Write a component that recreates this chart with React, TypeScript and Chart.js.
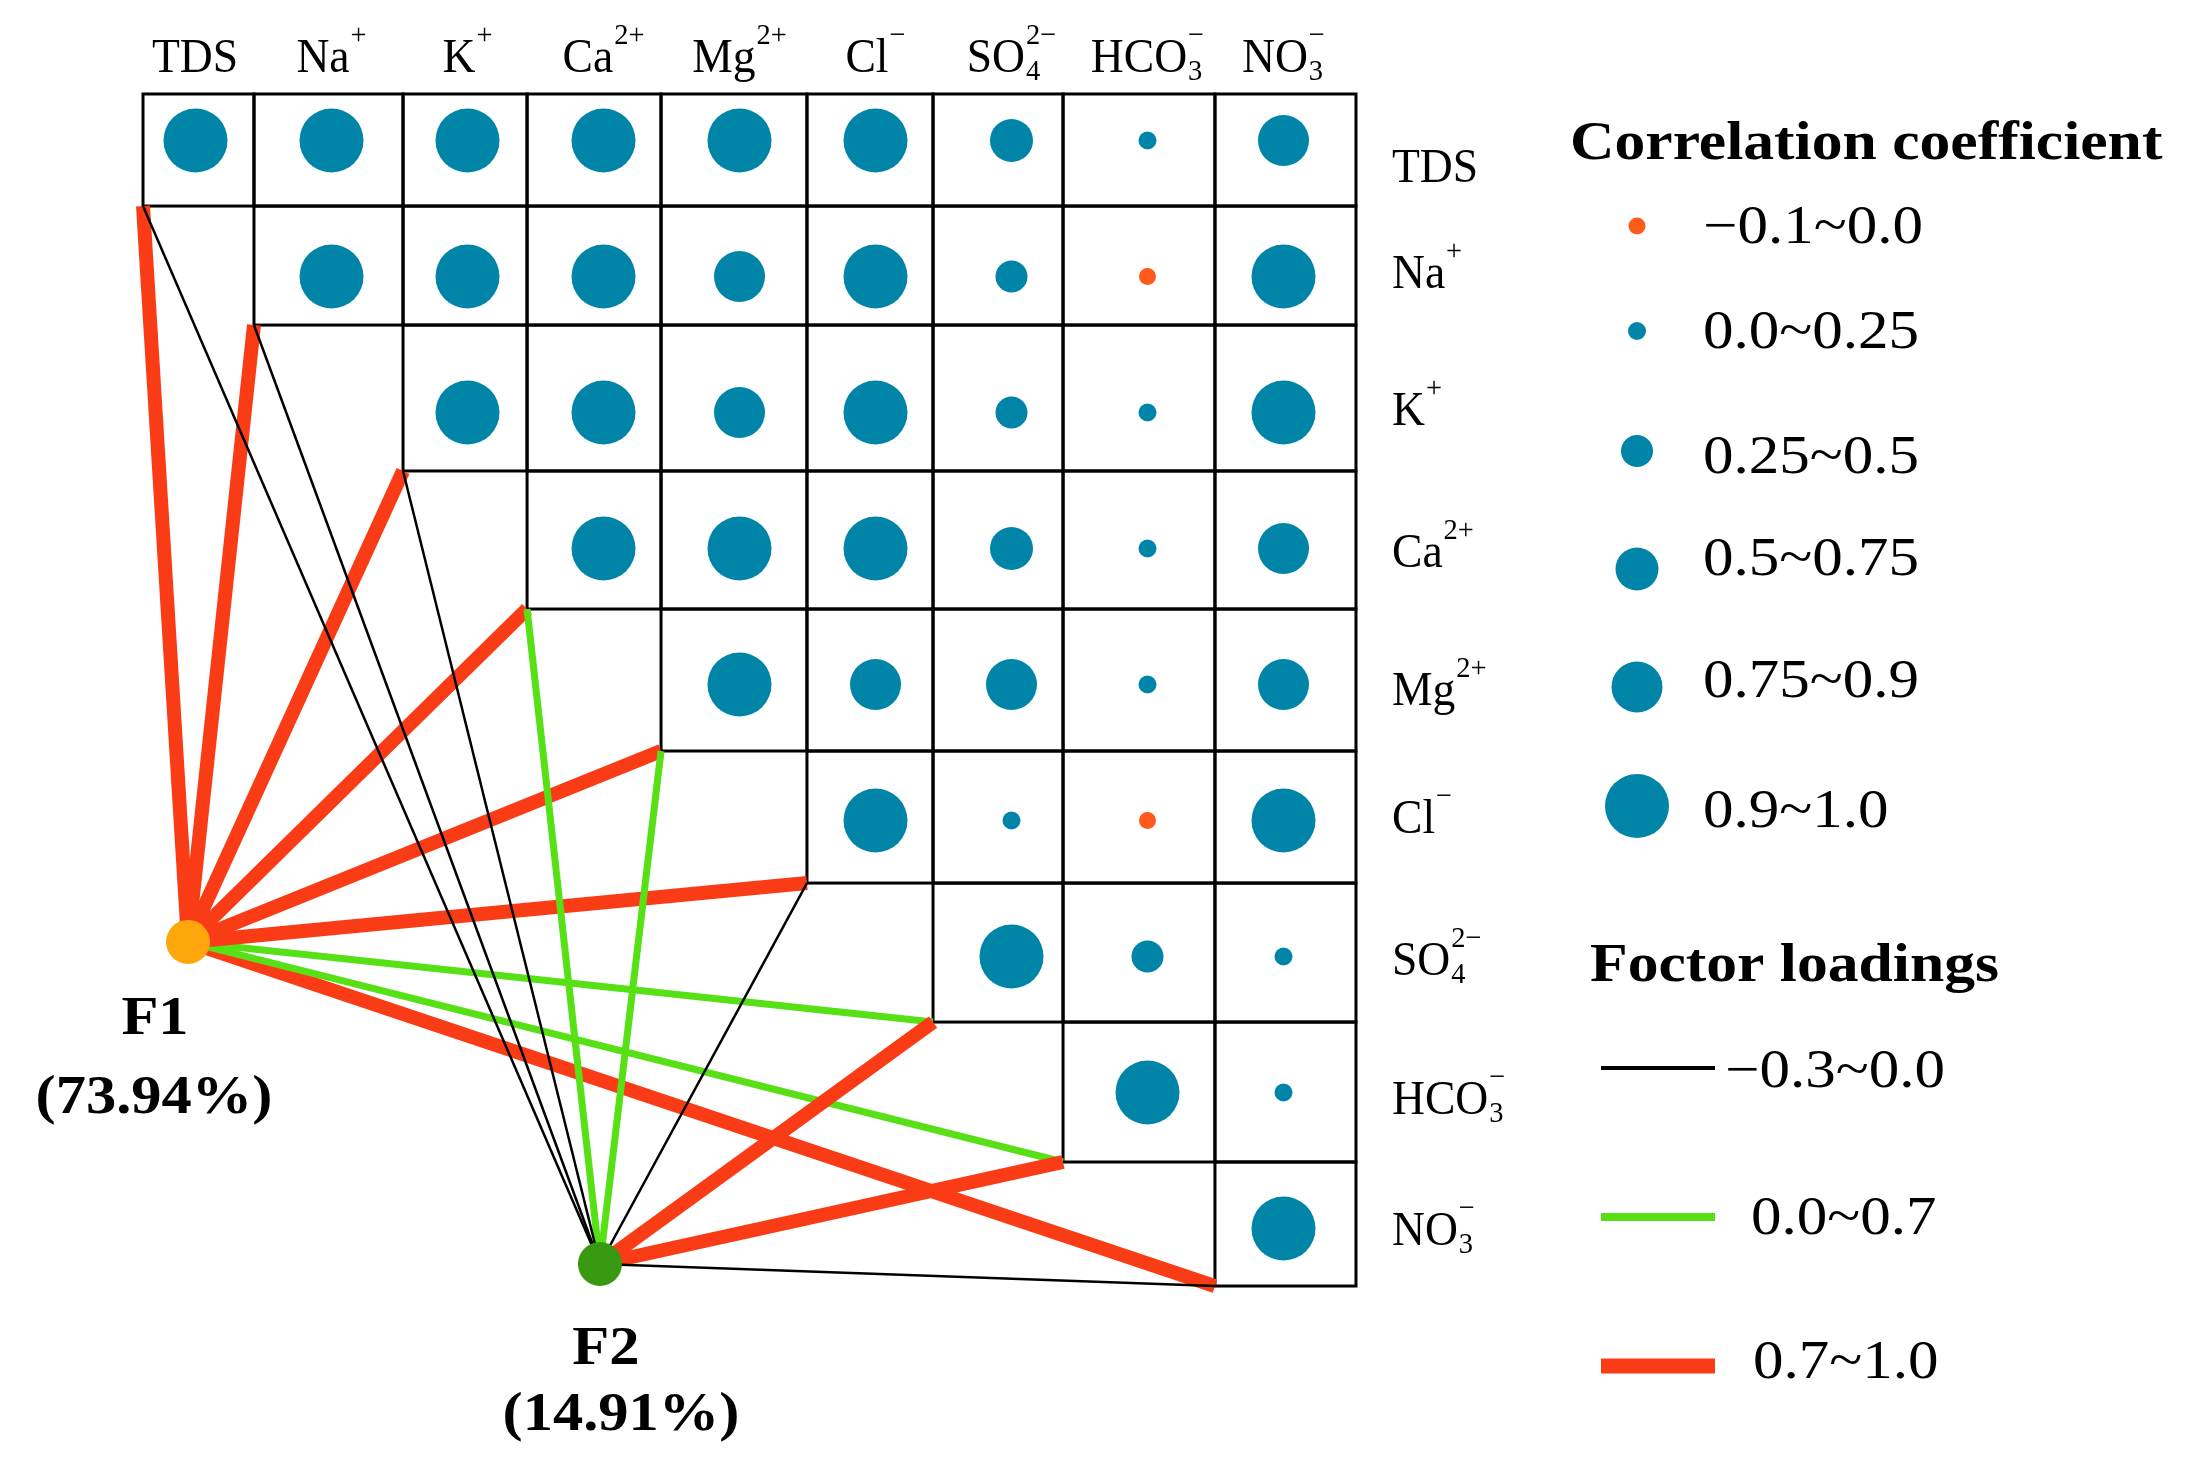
import React, { useEffect, useRef } from "react";
import { Chart, registerables } from "chart.js";

Chart.register(...registerables);

// ---------------- data ----------------
const variables = ["TDS", "Na⁺", "K⁺", "Ca²⁺", "Mg²⁺", "Cl⁻", "SO₄²⁻", "HCO₃⁻", "NO₃⁻"];
const labelBase = ["TDS", "Na", "K", "Ca", "Mg", "Cl", "SO", "HCO", "NO"];
const labelSub = ["", "", "", "", "", "", "4", "3", "3"];
const labelSup = ["", "+", "+", "2+", "2+", "−", "2−", "−", "−"];

// upper-triangle correlation rows (row i starts at column i)
const corrTDS = [1.0, 0.96, 0.95, 0.94, 0.93, 0.97, 0.62, 0.12, 0.84];
const corrNa = [1.0, 0.97, 0.93, 0.82, 0.95, 0.38, -0.05, 0.94];
const corrK = [1.0, 0.92, 0.8, 0.96, 0.35, 0.1, 0.93];
const corrCa = [1.0, 0.91, 0.93, 0.6, 0.08, 0.85];
const corrMg = [1.0, 0.81, 0.83, 0.11, 0.78];
const corrCl = [1.0, 0.15, -0.04, 0.92];
const corrSO4 = [1.0, 0.42, 0.13];
const corrHCO3 = [1.0, 0.09];
const corrNO3 = [1.0];
const corrRows = [corrTDS, corrNa, corrK, corrCa, corrMg, corrCl, corrSO4, corrHCO3, corrNO3];

const factorNames = ["F1", "F2"];
const factorVariance = ["73.94%", "14.91%"];
const loadF1 = [0.98, 0.95, 0.94, 0.91, 0.86, 0.96, 0.52, 0.31, 0.89];
const loadF2 = [-0.04, -0.12, -0.1, 0.28, 0.44, -0.08, 0.76, 0.81, -0.22];
const loadings = [loadF1, loadF2];

const corrLegendLabels = ["−0.1~0.0", "0.0~0.25", "0.25~0.5", "0.5~0.75", "0.75~0.9", "0.9~1.0"];
const corrLegendValues = [-0.05, 0.12, 0.38, 0.62, 0.82, 0.95];
const loadLegendLabels = ["−0.3~0.0", "0.0~0.7", "0.7~1.0"];
const loadLegendValues = [-0.15, 0.35, 0.85];

// ---------------- layout & style ----------------
const W = 2205;
const H = 1484;
// chart area: 9 x 9 units, 136 px per unit
const PAD = { left: 127.5, top: 72.5, right: 853.5, bottom: 187.5 };
// hand-drawn frame of the matrix, in axis units
const GRID_X_EDGES = [0.114, 0.93, 2.026, 2.938, 3.923, 4.996, 5.923, 6.879, 7.996, 9.033];
const GRID_Y_EDGES = [0.158, 0.982, 1.857, 2.93, 3.945, 4.989, 5.96, 6.982, 8.011, 8.923];
const NODE_POS = [
  { x: 0.445, y: 6.393 },
  { x: 3.474, y: 8.761 },
];
const FACTOR_LABEL_OFF = [
  { nx: -33, ny: 92, vx: -34, vy: 171 },
  { nx: 6, ny: 100, vx: 21, vy: 166 },
];
const HEADER_BASELINE = 72;
const ROW_LABEL_X = 1392;
const ROW_LABEL_DY = [41, 11, 12, 18, 20, 12, 18, 21, 16];
const LEG = {
  corrTitleX: 1570,
  corrTitleY: 159,
  corrDotX: 1637,
  corrTextX: 1703,
  corrDotY: [226, 331, 451, 569, 687, 806],
  corrTextY: [243, 348, 473, 575, 697, 827],
  loadTitleX: 1590,
  loadTitleY: 981,
  loadLineX0: 1601,
  loadLineX1: 1715,
  loadLineY: [1068, 1217, 1366],
  loadTextX: [1725, 1751, 1753],
  loadTextY: [1087, 1234, 1378],
};

const SERIF = '"Liberation Serif", "Times New Roman", serif';
const TEAL = "#0084A7";
const NEG = "#FF5A1A";
const RED = "#FA3C16";
const GREEN = "#58E016";
const NODE_COLORS = ["#FFA60D", "#37990F"];

function corrRadius(v: number) {
  if (v < 0) return 8.5;
  if (v < 0.25) return 9;
  if (v < 0.5) return 16;
  if (v < 0.75) return 21.5;
  if (v < 0.9) return 25.5;
  return 32;
}
function loadStyle(v: number) {
  if (v < 0) return { color: "#000000", width: 2.5, legend: 4 };
  if (v < 0.7) return { color: GREEN, width: 7, legend: 8 };
  return { color: RED, width: 14, legend: 15 };
}

function drawText(ctx: CanvasRenderingContext2D, text: string, x: number, y: number, font: string, sx: number, align: "left" | "center") {
  ctx.save();
  ctx.font = font;
  const w = ctx.measureText(text).width * sx;
  const x0 = align === "center" ? x - w / 2 : x;
  ctx.translate(x0, y);
  ctx.scale(sx, 1);
  ctx.textAlign = "left";
  ctx.textBaseline = "alphabetic";
  ctx.fillStyle = "#000";
  ctx.fillText(text, 0, 0);
  ctx.restore();
}

const LABEL_FS = 48;
const SCRIPT_FS = 30;
const LABEL_SX = 0.95;
function drawChem(ctx: CanvasRenderingContext2D, i: number, x: number, baseline: number, align: "left" | "center") {
  const baseFont = `${LABEL_FS}px ${SERIF}`;
  const scrFont = `${SCRIPT_FS}px ${SERIF}`;
  ctx.save();
  ctx.font = baseFont;
  const wb = ctx.measureText(labelBase[i]).width;
  ctx.font = scrFont;
  const wsup = labelSup[i] ? ctx.measureText(labelSup[i]).width : 0;
  const wsub = labelSub[i] ? ctx.measureText(labelSub[i]).width : 0;
  const total = (wb + 1 + Math.max(wsup, wsub)) * LABEL_SX;
  const x0 = align === "center" ? x - total / 2 : x;
  ctx.translate(x0, baseline);
  ctx.scale(LABEL_SX, 1);
  ctx.fillStyle = "#000";
  ctx.textAlign = "left";
  ctx.textBaseline = "alphabetic";
  ctx.font = baseFont;
  ctx.fillText(labelBase[i], 0, 0);
  ctx.font = scrFont;
  if (labelSup[i]) ctx.fillText(labelSup[i], wb + 1, -28);
  if (labelSub[i]) ctx.fillText(labelSub[i], wb + 1, 8);
  ctx.restore();
}

const decorPlugin = {
  id: "decor",
  beforeDatasetsDraw(chart: any) {
    const ctx: CanvasRenderingContext2D = chart.ctx;
    const xs = chart.scales.x;
    const ys = chart.scales.y;
    const n = variables.length;
    ctx.save();
    ctx.strokeStyle = "#000";
    ctx.lineWidth = 3;
    for (let i = 0; i < n; i++) {
      for (let j = i; j < n; j++) {
        const x0 = xs.getPixelForValue(GRID_X_EDGES[j]);
        const x1 = xs.getPixelForValue(GRID_X_EDGES[j + 1]);
        const y0 = ys.getPixelForValue(GRID_Y_EDGES[i]);
        const y1 = ys.getPixelForValue(GRID_Y_EDGES[i + 1]);
        ctx.strokeRect(x0, y0, x1 - x0, y1 - y0);
      }
    }
    ctx.restore();
  },
  afterDatasetsDraw(chart: any) {
    const ctx: CanvasRenderingContext2D = chart.ctx;
    const xs = chart.scales.x;
    const ys = chart.scales.y;
    const n = variables.length;
    for (let j = 0; j < n; j++) {
      drawChem(ctx, j, xs.getPixelForValue(j + 0.5), HEADER_BASELINE, "center");
    }
    for (let i = 0; i < n; i++) {
      drawChem(ctx, i, ROW_LABEL_X, ys.getPixelForValue(i + 0.5) + ROW_LABEL_DY[i], "left");
    }
    const bold = `bold 54px ${SERIF}`;
    factorNames.forEach((name, f) => {
      const px = xs.getPixelForValue(NODE_POS[f].x);
      const py = ys.getPixelForValue(NODE_POS[f].y);
      const o = FACTOR_LABEL_OFF[f];
      drawText(ctx, name, px + o.nx, py + o.ny, bold, 1.12, "center");
      drawText(ctx, `(${factorVariance[f]})`, px + o.vx, py + o.vy, bold, 1.12, "center");
    });
    drawText(ctx, "Correlation coefficient", LEG.corrTitleX, LEG.corrTitleY, `bold 55px ${SERIF}`, 1.12, "left");
    corrLegendLabels.forEach((lab, k) => {
      const v = corrLegendValues[k];
      ctx.save();
      ctx.beginPath();
      ctx.arc(LEG.corrDotX, LEG.corrDotY[k], corrRadius(v), 0, Math.PI * 2);
      ctx.fillStyle = v < 0 ? NEG : TEAL;
      ctx.fill();
      ctx.restore();
      drawText(ctx, lab, LEG.corrTextX, LEG.corrTextY[k], `54px ${SERIF}`, 1.13, "left");
    });
    drawText(ctx, "Foctor loadings", LEG.loadTitleX, LEG.loadTitleY, `bold 55px ${SERIF}`, 1.12, "left");
    loadLegendLabels.forEach((lab, k) => {
      const st = loadStyle(loadLegendValues[k]);
      ctx.save();
      ctx.beginPath();
      ctx.moveTo(LEG.loadLineX0, LEG.loadLineY[k]);
      ctx.lineTo(LEG.loadLineX1, LEG.loadLineY[k]);
      ctx.strokeStyle = st.color;
      ctx.lineWidth = st.legend;
      ctx.stroke();
      ctx.restore();
      drawText(ctx, lab, LEG.loadTextX[k], LEG.loadTextY[k], `54px ${SERIF}`, 1.13, "left");
    });
  },
};

function buildConfig(): any {
  const datasets: any[] = [];
  const bubbleData: any[] = [];
  corrRows.forEach((row, i) =>
    row.forEach((v, k) => bubbleData.push({ x: i + k + 0.5, y: i + 0.5, v }))
  );
  datasets.push({
    label: "correlation",
    data: bubbleData,
    order: 0,
    pointRadius: bubbleData.map((d) => corrRadius(d.v)),
    pointBackgroundColor: bubbleData.map((d) => (d.v < 0 ? NEG : TEAL)),
    pointBorderWidth: 0,
    pointBorderColor: "rgba(0,0,0,0)",
    clip: false,
  });
  datasets.push({
    label: "factors",
    data: NODE_POS.map((p) => ({ x: p.x, y: p.y })),
    order: 1,
    pointRadius: 22,
    pointBackgroundColor: NODE_COLORS,
    pointBorderWidth: 0,
    pointBorderColor: "rgba(0,0,0,0)",
    clip: false,
  });
  loadings.forEach((loads, f) =>
    loads.forEach((v, k) => {
      const st = loadStyle(v);
      datasets.push({
        label: `${factorNames[f]}-${variables[k]}`,
        data: [
          { x: NODE_POS[f].x, y: NODE_POS[f].y },
          { x: GRID_X_EDGES[k], y: GRID_Y_EDGES[k + 1] },
        ],
        showLine: true,
        borderColor: st.color,
        borderWidth: st.width,
        pointRadius: 0,
        order: v < 0 ? 2 : f === 1 ? 3 : 4,
        clip: false,
      });
    })
  );
  return {
    type: "scatter",
    data: { datasets },
    plugins: [decorPlugin],
    options: {
      animation: false,
      responsive: false,
      events: [],
      layout: { padding: PAD },
      plugins: {
        legend: { display: false },
        tooltip: { enabled: false },
        title: { display: false },
      },
      scales: {
        x: { type: "linear", min: 0, max: 9, display: false },
        y: { type: "linear", min: 0, max: 9, reverse: true, display: false },
      },
    },
  };
}

export default function App() {
  const ref = useRef<HTMLCanvasElement>(null);
  useEffect(() => {
    if (!ref.current) return;
    const chart = new Chart(ref.current, buildConfig());
    return () => chart.destroy();
  }, []);
  return (
    <div style={{ position: "absolute", left: 0, top: 0, width: W, height: H, background: "#fff" }}>
      <canvas ref={ref} width={W} height={H} style={{ width: W, height: H, display: "block" }} />
    </div>
  );
}
